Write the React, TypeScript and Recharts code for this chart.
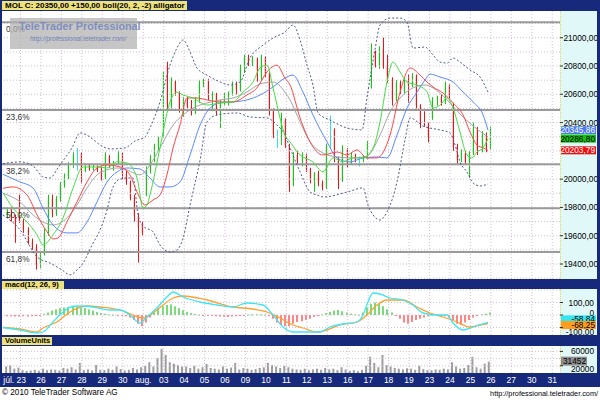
import React from 'react';
import { ComposedChart, Bar, Line, XAxis, YAxis, ReferenceLine } from 'recharts';

const FONT = '"Liberation Sans", Arial, Helvetica, sans-serif';
const NAVY = '#17297b';
const LABEL_BG = '#eee27a';
const AXIS_BG = '#e1f8f8';
const GRID = '#d3bdd6';
const CHART_W = 595;
const AXIS_W = 37;
const X_DOMAIN: [number, number] = [-0.905, 26.38];

// ---- categories (trading days; index = position on the time axis) ----
const dayLabels = ['júl. 23', '26', '27', '28', '29', '30', 'aug.', '03', '04', '05', '06', '09', '10', '11', '12', '13', '16', '17', '18', '19', '23', '24', '25', '26', '27', '30', '31'];
const dayIndex = [-1, 0, 1, 2, 3, 4, 5, 6, 7, 8, 9, 10, 11, 12, 13, 14, 15, 16, 17, 18, 19, 20, 21, 22];

// ---- intraday candles per day: [open, high, low, close] ----
const ohlcByDay: number[][][] = [
  [[19740, 19800, 19730, 19790], [19790, 19800, 19700, 19720], [19740, 19750, 19550, 19680], [19800, 19890, 19690, 19700]],
  [[19700, 19720, 19620, 19640], [19640, 19660, 19540, 19560], [19560, 19580, 19500, 19520], [19520, 19540, 19360, 19400], [19400, 19480, 19370, 19470]],
  [[19470, 19650, 19460, 19620], [19620, 19890, 19600, 19860], [19860, 19890, 19730, 19760], [19760, 19880, 19740, 19860], [19860, 19980, 19840, 19960]],
  [[19960, 20040, 19940, 20020], [20020, 20120, 20000, 20100], [20100, 20190, 20080, 20170], [20180, 20220, 20060, 20180], [20180, 20190, 19970, 20060]],
  [[20060, 20110, 20050, 20100], [20100, 20110, 20060, 20070], [20070, 20100, 20060, 20090], [20090, 20100, 20050, 20060], [20060, 20090, 19990, 20010]],
  [[20010, 20190, 20000, 20160], [20160, 20170, 20080, 20100], [20100, 20130, 20060, 20120], [20120, 20200, 20100, 20180], [20180, 20190, 20000, 20040]],
  [[20040, 20060, 19960, 19980], [19980, 19990, 19850, 19870], [19870, 19890, 19700, 19740], [19740, 19760, 19410, 19660], [19690, 19700, 19600, 19620]],
  [[19890, 20090, 19880, 20060], [20060, 20170, 20040, 20150], [20150, 20250, 20120, 20230], [20230, 20300, 20200, 20290], [20300, 20760, 20290, 20740]],
  [[20800, 20830, 20480, 20520], [20520, 20720, 20500, 20690], [20690, 20700, 20590, 20610], [20610, 20620, 20470, 20500], [20500, 20580, 20440, 20560]],
  [[20560, 20580, 20490, 20510], [20510, 20560, 20450, 20470], [20470, 20580, 20460, 20560], [20560, 20700, 20540, 20680], [20680, 20710, 20650, 20700]],
  [[20700, 20710, 20560, 20580], [20580, 20620, 20480, 20600], [20600, 20610, 20450, 20470], [20470, 20560, 20360, 20540], [20540, 20610, 20520, 20590]],
  [[20590, 20620, 20520, 20600], [20600, 20690, 20590, 20670], [20670, 20690, 20600, 20630], [20630, 20810, 20620, 20790], [20790, 20880, 20750, 20860]],
  [[20860, 20880, 20800, 20820], [20820, 20870, 20800, 20850], [20850, 20860, 20690, 20720], [20720, 20880, 20700, 20860], [20860, 20870, 20720, 20750]],
  [[20750, 20760, 20450, 20480], [20480, 20500, 20290, 20320], [20320, 20350, 20220, 20320], [20320, 20470, 20240, 20420], [20420, 20430, 20220, 20240]],
  [[20240, 20250, 19910, 19960], [19960, 20190, 19950, 20170], [20170, 20200, 20110, 20130], [20130, 20190, 20090, 20170], [20170, 20180, 20050, 20070]],
  [[20070, 20080, 19970, 19990], [19990, 20050, 19910, 20040], [20040, 20060, 19950, 19970], [19970, 19990, 19920, 19940], [19940, 20250, 19930, 20230]],
  [[20230, 20450, 20220, 20230], [20350, 20360, 20120, 20150], [20150, 20160, 19930, 19990], [19990, 20240, 19980, 20200], [20200, 20220, 20080, 20110]],
  [[20110, 20190, 20100, 20170], [20170, 20180, 20120, 20130], [20140, 20160, 20090, 20140], [20140, 20170, 20120, 20160], [20160, 20270, 20140, 20250]],
  [[20650, 20960, 20640, 20900], [20900, 20910, 20790, 20800], [20800, 20940, 20780, 20920], [20920, 21000, 20780, 20800], [20800, 20880, 20680, 20700]],
  [[20700, 20720, 20520, 20560], [20560, 20700, 20550, 20680], [20680, 20700, 20600, 20620], [20620, 20720, 20600, 20700], [20700, 20740, 20540, 20660]],
  [[20660, 20750, 20650, 20730], [20730, 20740, 20500, 20520], [20520, 20530, 20360, 20400], [20400, 20480, 20370, 20390], [20390, 20400, 20260, 20300]],
  [[20430, 20580, 20420, 20560], [20560, 20590, 20520, 20580], [20580, 20600, 20520, 20540], [20540, 20690, 20530, 20660], [20660, 20670, 20570, 20590]],
  [[20520, 20540, 20200, 20230], [20230, 20250, 20110, 20140], [20140, 20210, 20120, 20190], [20190, 20200, 20100, 20120], [20120, 20200, 20010, 20180]],
  [[20180, 20400, 20170, 20360], [20360, 20370, 20170, 20200], [20200, 20340, 20190, 20320], [20320, 20330, 20190, 20220], [20220, 20370, 20210, 20350]],
];

const volumeByDay: number[][] = [
  [18000, 22000, 12000, 15000],
  [8000, 6000, 7000, 9000, 6000],
  [12000, 8000, 10000, 9000, 7000],
  [14000, 12000, 16000, 10000, 28000],
  [8000, 10000, 7000, 22000, 9000],
  [8000, 12000, 9000, 18000, 11000],
  [7000, 9000, 14000, 10000, 16000],
  [20000, 30000, 18000, 42000, 67000],
  [50000, 30000, 26000, 22000, 18000],
  [18000, 14000, 20000, 12000, 16000],
  [25000, 14000, 12000, 10000, 18000],
  [12000, 15000, 28000, 10000, 14000],
  [12000, 9000, 11000, 14000, 16000],
  [28000, 22000, 18000, 14000, 20000],
  [16000, 12000, 10000, 9000, 12000],
  [8000, 10000, 12000, 9000, 14000],
  [10000, 12000, 8000, 16000, 10000],
  [6000, 8000, 5000, 9000, 20000],
  [45000, 28000, 16000, 50000, 22000],
  [18000, 14000, 12000, 10000, 13000],
  [12000, 9000, 20000, 11000, 8000],
  [8000, 10000, 9000, 12000, 10000],
  [30000, 18000, 12000, 14000, 22000],
  [45000, 16000, 12000, 26000, 31452],
];

const histByDay: number[][] = [
  [-10, -10, -12, -12],
  [-10, -12, -10, -8, -6],
  [10, 20, 35, 45, 55],
  [60, 65, 70, 65, 55],
  [55, 45, 35, 25, 15],
  [10, 5, 2, -2, -5],
  [-10, -20, -40, -70, -90],
  [-60, -20, 20, 50, 70],
  [80, 85, 70, 55, 40],
  [25, 15, 8, 3, -3],
  [-5, -8, -10, -12, -14],
  [-15, -12, -10, -8, -5],
  [3, 5, 6, 5, 3],
  [-10, -30, -60, -80, -90],
  [-90, -70, -56, -50, -40],
  [-30, -15, -5, 5, 15],
  [25, 35, 40, 30, 20],
  [10, 5, 2, 20, 60],
  [90, 100, 90, 70, 45],
  [20, -5, -30, -60, -70],
  [-55, -40, -30, -20, -10],
  [2, 0, -5, -10, -20],
  [-40, -70, -80, -60, -40],
  [-20, -5, 5, 10, 20],
];

// ---- indicator lines: [time position, value] ----
const bollUpper: number[][] = [[-0.86, 20110], [-0.02, 20122], [0.61, 20093], [1.10, 20016], [1.44, 20008], [1.83, 20079], [2.18, 20150], [2.52, 20221], [2.91, 20327], [3.40, 20298], [3.89, 20242], [4.38, 20214], [5.11, 20221], [5.60, 20270], [6.09, 20298], [6.33, 20362], [6.82, 20546], [7.31, 20806], [7.65, 20927], [7.95, 20984], [8.29, 20899], [8.63, 20786], [9.12, 20736], [9.76, 20687], [10.24, 20666], [10.73, 20687], [11.22, 20857], [11.86, 20948], [12.35, 20998], [12.93, 21040], [13.32, 21090], [13.67, 20984], [14.01, 20806], [14.30, 20666], [14.55, 20468], [15.13, 20418], [15.97, 20362], [16.70, 20348], [16.94, 20574], [17.33, 20913], [17.58, 21090], [18.07, 21139], [18.56, 21139], [18.90, 21111], [19.19, 20927], [19.78, 20934], [20.17, 20878], [20.51, 20828], [20.86, 20821], [21.15, 20857], [21.49, 20828], [21.98, 20772], [22.47, 20722], [22.86, 20616]];
const bollMiddle: number[][] = [[-0.86, 19900], [-0.02, 19839], [0.61, 19747], [1.10, 19697], [1.59, 19676], [2.27, 19726], [2.76, 19817], [3.25, 19938], [3.74, 20030], [4.23, 20065], [4.72, 20079], [5.21, 20065], [5.84, 20030], [6.33, 20100], [6.82, 20221], [7.46, 20383], [7.95, 20454], [8.44, 20503], [9.12, 20539], [9.76, 20560], [10.39, 20574], [11.07, 20616], [11.71, 20673], [12.35, 20687], [12.93, 20616], [13.18, 20560], [13.67, 20404], [14.16, 20263], [14.79, 20185], [15.48, 20157], [16.26, 20150], [16.94, 20164], [17.58, 20312], [18.07, 20475], [18.56, 20574], [19.19, 20645], [19.78, 20666], [20.17, 20645], [20.86, 20560], [21.49, 20461], [22.13, 20376], [22.86, 20298]];
const bollLower: number[][] = [[-0.86, 19747], [-0.02, 19641], [0.81, 19450], [1.44, 19407], [2.03, 19358], [2.42, 19323], [2.76, 19358], [3.06, 19407], [3.50, 19535], [3.89, 19641], [4.23, 19782], [4.47, 19923], [4.77, 19994], [5.21, 20008], [5.50, 20008], [5.75, 19747], [5.99, 19669], [6.48, 19627], [6.82, 19535], [7.31, 19485], [7.65, 19499], [7.95, 19584], [8.29, 19817], [8.78, 20136], [9.12, 20404], [9.61, 20454], [10.59, 20468], [11.22, 20440], [12.05, 20433], [12.54, 20383], [12.93, 20312], [13.18, 20221], [13.67, 20051], [14.16, 19909], [14.50, 19888], [14.79, 19874], [15.97, 19909], [16.75, 19938], [16.99, 19817], [17.24, 19747], [17.58, 19711], [17.92, 19768], [18.41, 19980], [18.80, 20277], [19.05, 20433], [19.68, 20376], [20.51, 20348], [21.00, 20327], [21.25, 20242], [21.49, 20122], [21.83, 20051], [22.13, 19973], [22.47, 19952], [22.86, 19966]];
const alligatorJaw: number[][] = [[-0.86, 20035], [-0.02, 19980], [0.61, 19938], [1.10, 19796], [1.59, 19676], [2.27, 19620], [2.76, 19620], [3.25, 19697], [3.74, 19839], [4.23, 19980], [4.72, 20051], [5.21, 20079], [5.84, 20072], [6.33, 20008], [6.82, 19945], [7.31, 19945], [7.80, 19980], [8.29, 20171], [8.78, 20383], [9.27, 20503], [9.76, 20539], [10.39, 20546], [11.07, 20560], [11.71, 20595], [12.35, 20652], [12.93, 20715], [13.32, 20736], [13.81, 20616], [14.30, 20454], [14.99, 20263], [15.48, 20150], [16.11, 20122], [16.75, 20150], [17.43, 20157], [17.92, 20150], [18.41, 20312], [18.90, 20503], [19.39, 20616], [19.78, 20701], [20.02, 20743], [20.51, 20722], [21.15, 20687], [21.64, 20616], [22.13, 20546], [22.62, 20454], [22.86, 20346]];
const alligatorTeeth: number[][] = [[-0.86, 19935], [-0.37, 19945], [0.32, 19888], [0.81, 19747], [1.30, 19627], [1.59, 19577], [1.83, 19584], [2.27, 19697], [2.76, 19839], [3.25, 19980], [3.74, 20079], [4.23, 20100], [4.87, 20086], [5.35, 20030], [5.70, 19909], [6.09, 19817], [6.48, 19853], [6.82, 19888], [7.16, 20030], [7.46, 20221], [7.80, 20383], [8.14, 20574], [8.63, 20574], [9.12, 20560], [9.76, 20546], [10.39, 20546], [11.07, 20595], [11.56, 20645], [12.05, 20758], [12.54, 20806], [12.93, 20715], [13.18, 20666], [13.67, 20433], [14.16, 20263], [14.79, 20171], [15.48, 20192], [15.97, 20171], [16.45, 20207], [16.94, 20150], [17.43, 20150], [18.07, 20312], [18.56, 20616], [19.05, 20786], [19.54, 20736], [19.88, 20687], [20.17, 20652], [20.66, 20609], [21.15, 20539], [21.64, 20454], [21.98, 20334], [22.32, 20242], [22.62, 20221], [22.86, 20204]];
const alligatorLips: number[][] = [[-0.86, 19905], [-0.37, 19796], [0.32, 19697], [0.81, 19606], [1.10, 19535], [1.59, 19606], [2.08, 19726], [2.57, 19938], [3.06, 20086], [3.74, 20086], [4.23, 20079], [4.72, 20122], [5.21, 20114], [5.70, 20008], [5.99, 19796], [6.19, 19817], [6.33, 19888], [6.82, 20221], [7.31, 20546], [7.65, 20616], [7.95, 20595], [8.44, 20574], [9.12, 20524], [9.76, 20539], [10.39, 20546], [10.88, 20616], [11.37, 20687], [11.71, 20786], [12.05, 20806], [12.35, 20645], [12.69, 20433], [12.93, 20312], [13.18, 20263], [13.67, 20171], [14.30, 20122], [14.79, 20051], [15.28, 20150], [15.77, 20122], [16.26, 20150], [16.75, 20150], [17.24, 20221], [17.58, 20404], [17.92, 20687], [18.21, 20828], [18.56, 20758], [18.90, 20687], [19.39, 20666], [19.88, 20616], [20.17, 20503], [20.51, 20524], [20.86, 20574], [21.15, 20503], [21.49, 20334], [21.83, 20171], [22.08, 20150], [22.32, 20192], [22.62, 20221], [22.86, 20287]];
const macdLine: number[][] = [[-0.86, -100], [-0.02, -120], [0.81, -144], [1.10, -136], [1.59, -56], [2.08, 24], [2.57, 70], [2.91, 72], [3.55, 64], [4.38, 40], [4.87, 40], [5.35, 0], [5.84, -64], [6.19, -16], [6.67, 56], [7.16, 144], [7.46, 184], [7.95, 144], [8.78, 104], [9.61, 80], [10.39, 64], [11.07, 96], [11.86, 80], [12.35, 0], [12.84, -96], [13.32, -136], [14.01, -136], [14.65, -136], [15.13, -96], [15.77, -72], [16.45, -56], [16.75, 0], [16.99, 104], [17.24, 176], [17.58, 168], [18.07, 136], [18.70, 120], [19.19, 80], [19.68, 16], [20.37, 0], [20.86, 0], [21.15, -64], [21.64, -120], [22.13, -96], [22.86, -59]];
const signalLine: number[][] = [[-0.86, -100], [-0.02, -112], [0.81, -136], [1.10, -104], [1.78, -56], [2.42, 24], [3.25, 72], [3.89, 64], [4.87, 40], [5.50, 0], [5.99, -24], [6.67, 40], [7.46, 136], [7.95, 152], [9.12, 120], [10.39, 64], [11.37, 48], [12.05, 24], [12.69, -24], [13.32, -80], [13.81, -104], [14.50, -136], [14.99, -120], [15.62, -80], [16.45, -56], [16.94, 0], [17.43, 80], [17.92, 120], [18.70, 120], [19.39, 64], [20.02, 16], [20.66, -16], [21.34, -56], [21.98, -96], [22.47, -80], [22.86, -68]];

// ---- axis ticks / levels ----
const priceTicks = [19400, 19600, 19800, 20000, 20400, 20600, 20800, 21000];
const priceGrid = [19300, 19400, 19500, 19600, 19700, 19800, 19900, 20000, 20100, 20200, 20300, 20400, 20500, 20600, 20700, 20800, 20900, 21000, 21100];
const fibLevels = [21110, 20489, 20105, 19795, 19485];
const fibLabels = ['0,0%', '23,6%', '38,2%', '50,0%', '61,8%'];
const macdTicks = [100, 0, -100];
const macdGrid = [200, 100, 0, -100];
const volumeTicks = [60000, 20000];
const volumeGrid = [60000, 40000, 20000];

// ---- last-value markers ----
const priceMarkerValues = [20345.86, 20286.80, 20203.79];
const priceMarkerBg = ['#4a78f0', '#10c010', '#ee1010'];
const priceMarkerFg = ['#ffffff', '#000000', '#ffffff'];
const macdMarkerValues = [-58.84, -68.25];
const macdMarkerBg = ['#33e6f0', '#ff9d1e'];
const volumeMarkerValue = 31452;

const fmt2 = (v: number) => v.toFixed(2).replace('.', ',');

const candles = dayIndex.flatMap((d, di) => {
  const rows = ohlcByDay[di];
  const first = 5 - rows.length;
  return rows.map((r, i) => {
    const hv = histByDay[di][i];
    return {
      t: Math.round((d + (first + i + 0.5) / 5) * 100) / 100,
      o: r[0], h: r[1], l: r[2], c: r[3],
      range: [r[2], r[1]],
      vol: volumeByDay[di][i],
      hist: hv,
      histRange: [Math.min(0, hv), Math.max(0, hv)],
    };
  });
});

const pts = (a: number[][]) => a.map(([t, v]) => ({ t, v }));
const dayTicks = dayLabels.map((_, i) => i);

const renderCandle = (props: any) => {
  const { x, y, width, height } = props;
  const p = props.payload ?? props;
  if (x == null || y == null || !p || p.h == null) return <g />;
  const top = height >= 0 ? y : y + height;
  const hgt = Math.abs(height);
  const span = p.h - p.l || 1;
  const yv = (v: number) => top + ((p.h - v) / span) * hgt;
  const col = p.o === p.c ? '#36dde6' : p.c > p.o ? '#14c814' : '#ee1414';
  const rx = Math.round(x);
  const bTop = yv(Math.max(p.o, p.c));
  const bBot = yv(Math.min(p.o, p.c));
  return (
    <g>
      <line x1={rx + 1.5} x2={rx + 1.5} y1={top} y2={top + hgt} stroke={col} strokeWidth={1} />
      <rect x={rx} y={bTop} width={width} height={Math.max(1, bBot - bTop)} fill={col} />
    </g>
  );
};

const renderHist = (props: any) => {
  const { x, y, width, height } = props;
  const p = props.payload ?? props;
  if (x == null || y == null || !p || p.hist == null) return <g />;
  const top = height >= 0 ? y : y + height;
  const hgt = Math.max(1, Math.abs(height));
  const col = p.hist >= 0 ? '#78dc78' : '#ff8484';
  return <rect x={Math.round(x)} y={top} width={Math.max(2, width || 2)} height={hgt} fill={col} />;
};

const rightTick = (labelFn: (v: number) => string, shift: number, nudge: (v: number) => number = () => 0) => (p: any) => (
  <text x={p.x + shift} y={p.y + 3 + nudge(p.payload.value)} textAnchor="end" fontSize={8.3} fill="#000" fontFamily={FONT}>
    {labelFn(p.payload.value)}
  </text>
);

const dateTick = (p: any) => {
  const i = p.payload.value;
  const lbl = dayLabels[i];
  const first = i === 0;
  return (
    <text x={first ? p.x + 5.5 : p.x} y={p.y + 8} textAnchor={first ? 'end' : 'middle'} fontSize={8.5} fill="#ffffff" fontFamily={FONT}>
      {lbl}
    </text>
  );
};

const valueBox = (text: string, bg: string, fg: string, dy = 0, h = 8) => (p: any) => {
  const vb = p.viewBox;
  if (!vb) return <g />;
  const x = vb.x + vb.width + 1;
  const y = vb.y + dy;
  return (
    <g>
      <rect x={x} y={y - h / 2} width={AXIS_W - 2} height={h} fill={bg} />
      <text x={x + AXIS_W - 3} y={y + 3} textAnchor="end" fontSize={8.3} fill={fg} fontFamily={FONT}>{text}</text>
    </g>
  );
};

const verticalGrid = () =>
  dayTicks.map((k) => <ReferenceLine key={`vx${k}`} x={k} stroke={GRID} strokeDasharray="1 2" />);

const labelBox = (text: string, left: number, top: number, width: number, height: number, size: number): React.ReactElement => (
  <div style={{ position: 'absolute', left, top, width, height, background: LABEL_BG, color: '#000', fontWeight: 'bold', fontSize: size, lineHeight: `${height}px`, paddingLeft: 3, boxSizing: 'border-box', whiteSpace: 'nowrap', overflow: 'hidden', fontFamily: FONT }}>
    {text}
  </div>
);

const panelBg = (top: number, height: number) => (
  <>
    <div style={{ position: 'absolute', left: 2, top, width: CHART_W - AXIS_W, height, background: '#ffffff' }} />
    <div style={{ position: 'absolute', left: 2 + CHART_W - AXIS_W, top, width: AXIS_W, height, background: AXIS_BG, borderLeft: '1px dotted #e8d860', boxSizing: 'border-box' }} />
  </>
);

export default function App() {
  return (
    <div style={{ position: 'absolute', left: 0, top: 0, width: 600, height: 400, background: NAVY, overflow: 'hidden', fontFamily: FONT }}>
      {labelBox('MOL C: 20350,00 +150,00 boll(20, 2, -2) alligator', 2, 1, 185, 9, 8)}

      {panelBg(11, 268)}
      <div style={{ position: 'absolute', left: 2, top: 11 }}>
        <ComposedChart width={CHART_W} height={268} data={candles} margin={{ top: 0, right: 0, bottom: 0, left: 0 }}>
          <XAxis dataKey="t" type="number" domain={X_DOMAIN} allowDataOverflow hide />
          <YAxis orientation="right" width={AXIS_W} domain={[19294, 21189]} allowDataOverflow ticks={priceTicks} interval={0}
            tick={rightTick((v) => fmt2(v), 33)} tickSize={3} tickLine={{ stroke: '#333' }} axisLine={false} />
          {priceGrid.map((v) => <ReferenceLine key={`hg${v}`} y={v} stroke={GRID} strokeDasharray="1 2" />)}
          {verticalGrid()}
          {fibLevels.map((v, i) => (
            <ReferenceLine key={`fib${i}`} y={v} stroke="#9a9a9a" strokeWidth={2}
              label={(p: any) => (
                <text x={p.viewBox.x + 4} y={p.viewBox.y + 10} fontSize={8.3} fill="#333" fontFamily={FONT}>{fibLabels[i]}</text>
              )} />
          ))}
          <Line data={pts(bollUpper)} dataKey="v" type="monotone" stroke="#4b5b92" strokeWidth={1} strokeDasharray="2 2" dot={false} isAnimationActive={false} />
          <Line data={pts(bollLower)} dataKey="v" type="monotone" stroke="#4b5b92" strokeWidth={1} strokeDasharray="2 2" dot={false} isAnimationActive={false} />
          <Bar dataKey="range" barSize={3} shape={renderCandle} isAnimationActive={false} />
          <Line data={pts(bollMiddle)} dataKey="v" type="monotone" stroke="#a4a4a4" strokeWidth={1} dot={false} isAnimationActive={false} />
          <Line data={pts(alligatorJaw)} dataKey="v" type="monotone" stroke="#5a88ff" strokeWidth={1} dot={false} isAnimationActive={false} />
          <Line data={pts(alligatorTeeth)} dataKey="v" type="monotone" stroke="#ff4444" strokeWidth={1} dot={false} isAnimationActive={false} />
          <Line data={pts(alligatorLips)} dataKey="v" type="monotone" stroke="#44dd44" strokeWidth={1} dot={false} isAnimationActive={false} />
          {priceMarkerValues.map((v, i) => (
            <ReferenceLine key={`pm${i}`} y={v} stroke="none" label={valueBox(fmt2(v), priceMarkerBg[i], priceMarkerFg[i])} />
          ))}
        </ComposedChart>
      </div>

      <div style={{ position: 'absolute', left: 10, top: 18, width: 127, height: 31, background: 'rgba(176,176,176,0.72)' }}>
        <div style={{ position: 'absolute', left: 9, top: 2, fontSize: 10.8, fontWeight: 'bold', color: '#7f8fbd', whiteSpace: 'nowrap', fontFamily: FONT }}>TeleTrader Professional</div>
        <div style={{ position: 'absolute', left: 20, top: 17, fontSize: 6.5, fontStyle: 'italic', color: '#7282b8', whiteSpace: 'nowrap', fontFamily: FONT }}>http://professional.teletrader.com/</div>
      </div>

      {labelBox('macd(12, 26, 9)', 2, 281, 62, 8, 7.5)}
      {panelBg(289, 46)}
      <div style={{ position: 'absolute', left: 2, top: 289 }}>
        <ComposedChart width={CHART_W} height={46} data={candles} margin={{ top: 0, right: 0, bottom: 0, left: 0 }}>
          <XAxis dataKey="t" type="number" domain={X_DOMAIN} allowDataOverflow hide />
          <YAxis orientation="right" width={AXIS_W} domain={[-160, 208]} allowDataOverflow ticks={macdTicks} interval={0}
            tick={rightTick((v) => (v === 0 ? '0' : fmt2(v)), 29, (v) => (v < 0 ? 4 : v === 0 ? -2 : 0))} tickSize={3} tickLine={{ stroke: '#333' }} axisLine={false} />
          {macdGrid.map((v) => <ReferenceLine key={`mg${v}`} y={v} stroke={GRID} strokeDasharray="1 2" />)}
          {verticalGrid()}
          <Bar dataKey="histRange" barSize={2} shape={renderHist} isAnimationActive={false} />
          <Line data={pts(signalLine)} dataKey="v" type="monotone" stroke="#ffa030" strokeWidth={1.3} dot={false} isAnimationActive={false} />
          <Line data={pts(macdLine)} dataKey="v" type="monotone" stroke="#3ee6f2" strokeWidth={1.3} dot={false} isAnimationActive={false} />
          <ReferenceLine y={macdMarkerValues[0]} stroke="none" label={valueBox(fmt2(macdMarkerValues[0]), macdMarkerBg[0], '#000', -3.5, 7)} />
          <ReferenceLine y={macdMarkerValues[1]} stroke="none" label={valueBox(fmt2(macdMarkerValues[1]), macdMarkerBg[1], '#000', 1.5, 8)} />
        </ComposedChart>
      </div>

      {labelBox('VolumeUnits', 2, 337, 50, 8, 7.5)}
      {panelBg(346, 27)}
      <div style={{ position: 'absolute', left: 2, top: 346 }}>
        <ComposedChart width={CHART_W} height={40} data={candles} margin={{ top: 0, right: 0, bottom: 0, left: 0 }}>
          <XAxis dataKey="t" type="number" domain={X_DOMAIN} allowDataOverflow ticks={dayTicks} interval={0}
            height={13} tick={dateTick} tickSize={0} tickLine={false} axisLine={false} />
          <YAxis orientation="right" width={AXIS_W} domain={[0, 75000]} allowDataOverflow ticks={volumeTicks} interval={0}
            tick={rightTick((v) => String(v), 29, (v) => (v === 20000 ? 3 : 0))} tickSize={3} tickLine={{ stroke: '#333' }} axisLine={false} />
          {volumeGrid.map((v) => <ReferenceLine key={`vg${v}`} y={v} stroke={GRID} strokeDasharray="1 2" />)}
          {verticalGrid()}
          <Bar dataKey="vol" barSize={2} fill="#9c9c9c" isAnimationActive={false} />
          <ReferenceLine y={volumeMarkerValue} stroke="none" label={(p: any) => {
            const vb = p.viewBox;
            const x = vb.x + vb.width + 1;
            return (
              <g>
                <rect x={x} y={vb.y - 5} width={26} height={9} fill="#8e8e8e" />
                <text x={x + 25} y={vb.y + 2.5} textAnchor="end" fontSize={8.3} fill="#000" fontFamily={FONT}>{String(volumeMarkerValue)}</text>
              </g>
            );
          }} />
        </ComposedChart>
      </div>

      <div style={{ position: 'absolute', left: 0, top: 387, width: 600, height: 13, background: '#ffffff' }}>
        <div style={{ position: 'absolute', left: 2, top: 1, fontSize: 8.2, color: '#000', whiteSpace: 'nowrap', fontFamily: FONT }}>© 2010 TeleTrader Software AG</div>
        <div style={{ position: 'absolute', right: 2, top: 2, fontSize: 7.3, color: '#000', whiteSpace: 'nowrap', fontFamily: FONT }}>http://professional.teletrader.com/</div>
      </div>
    </div>
  );
}
